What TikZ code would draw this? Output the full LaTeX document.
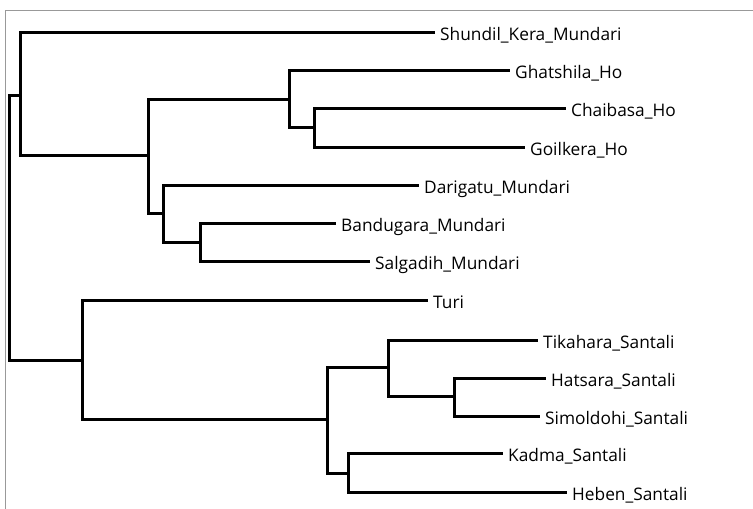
\documentclass[tikz,border=0pt]{standalone}
\usepackage{fontspec}
\setmainfont{Open Sans}
\begin{document}
\begin{tikzpicture}[x=1pt,y=-1pt,
  branch/.style={line width=3pt,black},
  leaf/.style={anchor=west,inner xsep=5pt,inner ysep=0pt,text height=20pt,text depth=4pt,font=\fontsize{17.3}{20}\selectfont},
  frame/.style={line width=1pt,gray!80}]
\useasboundingbox (0,0) rectangle (753,509);
\draw[frame] (5.5,509) -- (5.5,10.5) -- (753,10.5);
% internal nodes
\coordinate (root) at (9,228);
\coordinate (A) at (20,95);
\coordinate (B) at (148,155);
\coordinate (C) at (289,99);
\coordinate (D) at (314,127);
\coordinate (E) at (163,213);
\coordinate (F) at (200,242);
\coordinate (G) at (82,360);
\coordinate (H) at (327,419);
\coordinate (I) at (388,367);
\coordinate (J) at (454,396);
\coordinate (K) at (348,473);
% leaves
\node[leaf] (shundil) at (435,32) {Shundil\_Kera\_Mundari};
\node[leaf] (ghatshila) at (510,70) {Ghatshila\_Ho};
\node[leaf] (chaibasa) at (566,108) {Chaibasa\_Ho};
\node[leaf] (goilkera) at (525,147) {Goilkera\_Ho};
\node[leaf] (darigatu) at (419,185) {Darigatu\_Mundari};
\node[leaf] (bandugara) at (336,223) {Bandugara\_Mundari};
\node[leaf] (salgadih) at (370,261) {Salgadih\_Mundari};
\node[leaf] (turi) at (428,300) {Turi};
\node[leaf] (tikahara) at (538,340) {Tikahara\_Santali};
\node[leaf] (hatsara) at (546,378) {Hatsara\_Santali};
\node[leaf] (simoldohi) at (540,416) {Simoldohi\_Santali};
\node[leaf] (kadma) at (503,453) {Kadma\_Santali};
\node[leaf] (heben) at (567,492) {Heben\_Santali};
% branches
\draw[branch] (root) |- (A);
\draw[branch] (root) |- (G);
\draw[branch] (A) |- (shundil.west);
\draw[branch] (A) |- (B);
\draw[branch] (B) |- (C);
\draw[branch] (B) |- (E);
\draw[branch] (C) |- (ghatshila.west);
\draw[branch] (C) |- (D);
\draw[branch] (D) |- (chaibasa.west);
\draw[branch] (D) |- (goilkera.west);
\draw[branch] (E) |- (darigatu.west);
\draw[branch] (E) |- (F);
\draw[branch] (F) |- (bandugara.west);
\draw[branch] (F) |- (salgadih.west);
\draw[branch] (G) |- (turi.west);
\draw[branch] (G) |- (H);
\draw[branch] (H) |- (I);
\draw[branch] (H) |- (K);
\draw[branch] (I) |- (tikahara.west);
\draw[branch] (I) |- (J);
\draw[branch] (J) |- (hatsara.west);
\draw[branch] (J) |- (simoldohi.west);
\draw[branch] (K) |- (kadma.west);
\draw[branch] (K) |- (heben.west);
\end{tikzpicture}
\end{document}
